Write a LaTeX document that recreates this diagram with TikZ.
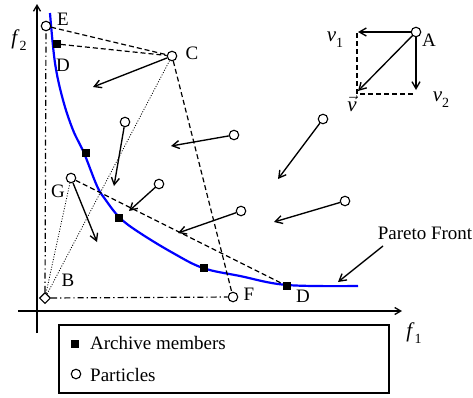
\documentclass[tikz,border=0pt]{standalone}
\usepackage{fontspec}
\setmainfont{Liberation Serif}
\usetikzlibrary{arrows.meta,shapes.geometric}
\newcommand\subsc[1]{\raisebox{-0.3em}{\fontsize{14}{14}\selectfont #1}}
\begin{document}
\begin{tikzpicture}[x=1pt,y=-1pt,
  particle/.style={circle, draw, line width=1.1pt, inner sep=0pt, minimum size=9.5pt, fill=white},
  archive/.style={rectangle, fill=black, inner sep=0pt, minimum size=7.5pt},
  bnode/.style={diamond, draw, line width=1.1pt, inner sep=0pt, minimum size=11pt, fill=white},
  vel/.style={-{Straight Barb[length=7pt,width=8pt]}, line width=1.35pt},
  axis/.style={-{Straight Barb[length=6pt,width=7pt]}, line width=1.3pt},
  dsh/.style={dash pattern=on 5pt off 3pt, line width=1.2pt},
  dashdot/.style={dash pattern=on 6pt off 3pt on 1.3pt off 3pt, line width=1.2pt},
  dotline/.style={dash pattern=on 1pt off 1.6pt, line width=0.8pt},
  lbl/.style={font=\fontsize{19}{22}\selectfont, inner sep=0pt},
  mlbl/.style={font=\fontsize{21}{24}\selectfont, inner sep=0pt},
  front/.style={blue, line width=2.2pt}]
\useasboundingbox (0,0) rectangle (473,397);

% axes
\coordinate (yb) at (37,333);
\coordinate (yt) at (37,4);
\coordinate (xl) at (18,311);
\coordinate (xr) at (402,311);
\draw[axis] (yb) -- (yt);
\draw[axis] (xl) -- (xr);
\node[mlbl] (f2) at (19,40) {\textit{f}\subsc{2}};
\node[mlbl] (f1) at (414,333) {\textit{f}\subsc{1}};

% Pareto front
\draw[front] plot[smooth, tension=0.6] coordinates {(50,13) (55,63) (63,100) (73,130) (84,153) (97,186) (105,199) (120,218) (140,233) (173,253) (203,268) (240,276) (287,285) (358,286)};

% nodes
\node[particle] (E) at (46,26) {};
\node[archive] (D1) at (57,44) {};
\node[particle] (C) at (172,56) {};
\node[particle] (G) at (71,178) {};
\node[bnode] (B) at (45,298) {};
\node[particle] (F) at (233,297) {};
\node[archive] (D2) at (287,286) {};
\node[archive] (S3) at (86,153) {};
\node[archive] (S4) at (119,218) {};
\node[archive] (S5) at (204,268) {};
\node[particle] (P2) at (125,122) {};
\node[particle] (P3) at (234,135) {};
\node[particle] (P4) at (323,119) {};
\node[particle] (P5) at (159,184) {};
\node[particle] (P6) at (241,211) {};
\node[particle] (P7) at (345,201) {};
\node[particle] (A) at (416,32) {};

% labels
\node[lbl] (lE) at (63,19.5) {E};
\node[lbl] (lD1) at (63,65) {D};
\node[lbl] (lC) at (192,53) {C};
\node[lbl] (lG) at (58,191) {G};
\node[lbl] (lB) at (68,280) {B};
\node[lbl] (lF) at (249,294) {F};
\node[lbl] (lD2) at (303,296) {D};
\node[lbl] (lA) at (429,40) {A};

% dashed and dotted construction lines
\draw[dsh] (E) -- (C);
\draw[dsh] (D1) -- (C);
\draw[dsh] (C) -- (F);
\draw[dsh] (G) -- (D2);
\draw[dashdot] (B) -- (E);
\draw[dashdot] (B) -- (F);
\draw[dotline] (B) -- (G);
\draw[dotline] (B) -- (C);

% velocity arrows
\coordinate (vC) at (93,87);
\coordinate (v2) at (114,186);
\coordinate (v3) at (171,146);
\coordinate (v4) at (278,179);
\coordinate (v5) at (129,211);
\coordinate (v6) at (178,233);
\coordinate (v7) at (274,222);
\coordinate (vG) at (97,242);
\draw[vel] (C) -- (vC);
\draw[vel] (P2) -- (v2);
\draw[vel] (P3) -- (v3);
\draw[vel] (P4) -- (v4);
\draw[vel] (P5) -- (v5);
\draw[vel] (P6) -- (v6);
\draw[vel] (P7) -- (v7);
\draw[vel] (G) -- (vG);

% velocity decomposition at A
\coordinate (Av1) at (358,32);
\coordinate (Av2) at (416,90);
\coordinate (Av) at (358,91);
\coordinate (Ac1) at (357,33);
\coordinate (Acorner) at (357,94);
\coordinate (Ac2) at (414,94);
\draw[vel] (A) -- (Av1);
\draw[vel] (A) -- (Av2);
\draw[vel] (A) -- (Av);
\draw[dsh] (Ac1) -- (Acorner) -- (Ac2);
\node[mlbl] (lv1) at (335,40) {\textit{v}\subsc{1}};
\node[mlbl] (lv2) at (441,100) {\textit{v}\subsc{2}};
\node[mlbl] (lv) at (352,104) {$\vec{\mbox{\textit{v}}}$};

% Pareto front label
\node[lbl] (PF) at (425,233) {Pareto Front};
\coordinate (pfs) at (383,246);
\coordinate (pft) at (338,282);
\draw[vel] (pfs) -- (pft);

% legend
\node[draw, line width=1.2pt, minimum width=330pt, minimum height=68pt, inner sep=0pt] (legend) at (224,359) {};
\node[archive] (LA) at (75,344) {};
\node[lbl, anchor=west] (LAt) at (90,343) {Archive members};
\node[particle] (LP) at (76,374) {};
\node[lbl, anchor=west] (LPt) at (90,375) {Particles};
\end{tikzpicture}
\end{document}
